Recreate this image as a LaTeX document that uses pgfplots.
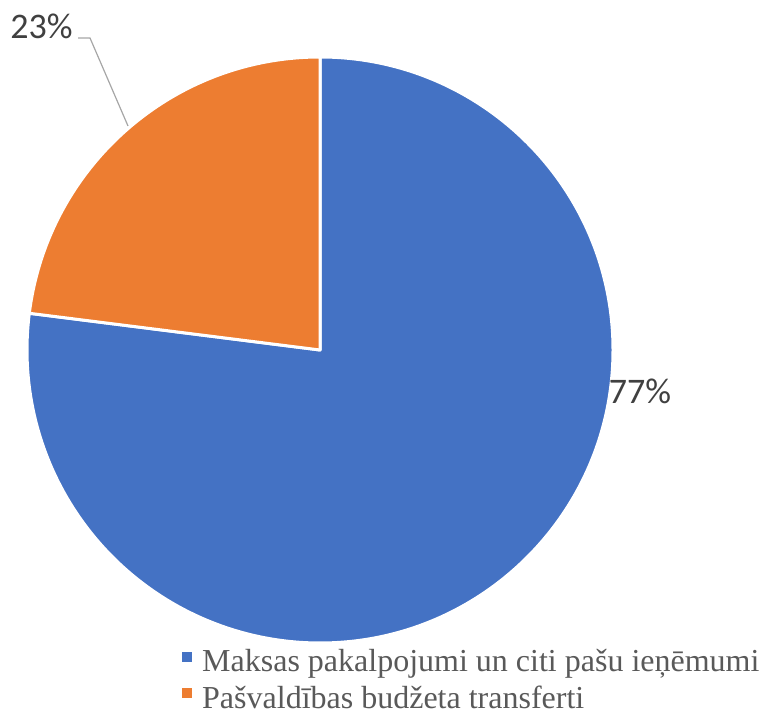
\documentclass[border=0pt]{standalone}
\usepackage{fontspec}
\setmainfont{Liberation Serif}
\newfontfamily\carlito{Carlito}
\usepackage{pgfplots}
\pgfplotsset{compat=1.18}
\definecolor{pieblue}{HTML}{4472C4}
\definecolor{pieorange}{HTML}{ED7D31}
\definecolor{lbl}{HTML}{404040}
\definecolor{leg}{HTML}{595959}
\definecolor{lead}{HTML}{A6A6A6}
% data (percent)
\def\va{77}
\def\vb{23}
\pgfmathsetmacro{\aend}{90-3.6*\va}
\pgfmathsetmacro{\bend}{\aend-3.6*\vb}
\begin{document}
\begin{tikzpicture}
\begin{axis}[scale only axis, width=765bp, height=714bp,
  xmin=0, xmax=765, ymin=0, ymax=714, hide axis, clip=false]
\path (axis cs:0,0) rectangle (axis cs:765,714);
\fill[pieblue, draw=white, line width=3bp, line join=round]
  (axis cs:320,364) -- ++(90:293bp) arc[start angle=90, end angle=\aend, radius=293bp] -- cycle;
\fill[pieorange, draw=white, line width=3bp, line join=round]
  (axis cs:320,364) -- ++(\aend:293bp) arc[start angle=\aend, end angle=\bend, radius=293bp] -- cycle;
\draw[lead, line width=1.2bp] (axis cs:78,676) -- (axis cs:90,676) -- (axis cs:128,588);
\node[anchor=base, font=\carlito\fontsize{36bp}{40bp}\selectfont, text=lbl, inner sep=0pt] at (axis cs:41.5,675) {23\%};
\node[anchor=base, font=\carlito\fontsize{36bp}{40bp}\selectfont, text=lbl, inner sep=0pt] at (axis cs:640,310) {77\%};
\fill[pieblue] (axis cs:182,52) rectangle (axis cs:192,62);
\fill[pieorange] (axis cs:182,16) rectangle (axis cs:192,26);
\node[anchor=base west, font=\fontsize{32bp}{36bp}\selectfont, text=leg, inner sep=0pt] at (axis cs:202,42) {Maksas pakalpojumi un citi pašu ieņēmumi};
\node[anchor=base west, font=\fontsize{32bp}{36bp}\selectfont, text=leg, inner sep=0pt] at (axis cs:202,6) {Pašvaldības budžeta transferti};
\end{axis}
\end{tikzpicture}
\end{document}
